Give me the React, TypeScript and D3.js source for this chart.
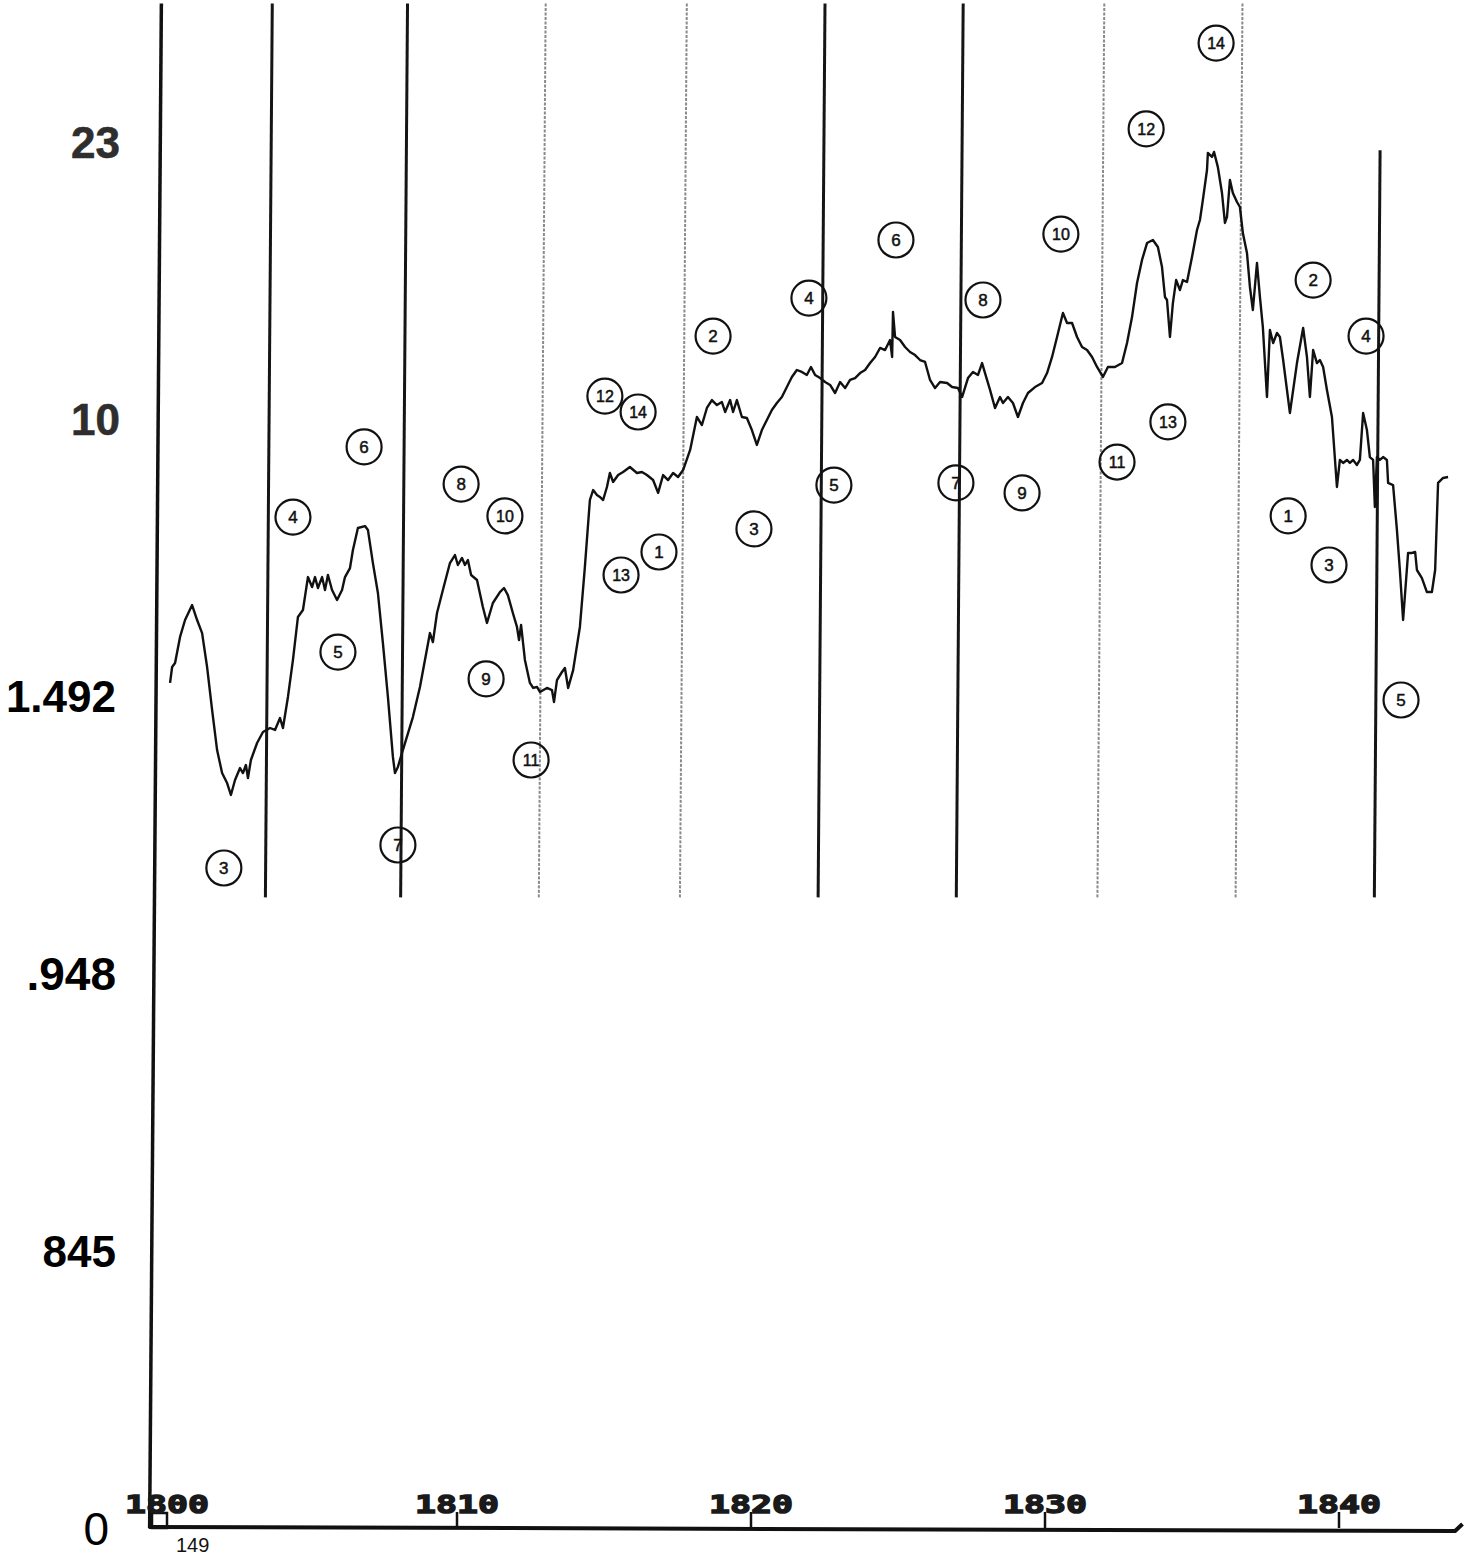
import React from "react";
import * as d3 from "d3";

// ---- data -----------------------------------------------------------------
// series traced as [year, level]; level is on the 0..100 index scale of the y axis
const series1800s: [number, number][] = [
  [1800.24,60.97],[1800.31,62.12],[1800.41,62.41],[1800.58,64.29],[1800.75,65.51],[1800.99,66.59],[1801.16,65.51],[1801.33,64.57],[1801.50,62.12],[1801.67,59.02],[1801.84,56.13],[1802.01,54.47],[1802.18,53.75],[1802.31,52.89],[1802.45,53.97],[1802.62,54.83],[1802.72,54.47],[1802.82,55.05],[1802.89,54.11],[1802.99,55.41],[1803.20,56.64],[1803.40,57.43],[1803.64,57.72],[1803.81,57.58],[1803.98,58.44],[1804.08,57.72],[1804.25,59.96],[1804.42,62.63],[1804.59,65.73],[1804.76,66.23],[1804.93,68.61],[1805.07,67.89],[1805.17,68.61],[1805.27,67.82],[1805.41,68.61],[1805.51,67.68],[1805.61,68.76],[1805.75,67.68],[1805.92,66.96],[1806.09,67.68],[1806.19,68.61],[1806.36,69.26],[1806.46,70.56],[1806.63,72.15],[1806.87,72.29],[1806.97,72.01],[1807.14,69.62],[1807.31,67.46],[1807.48,63.85],[1807.65,59.96],[1807.82,55.63],[1807.89,54.47],[1807.99,54.91],[1808.13,55.92],
];
const series1810s: [number, number][] = [
  [1808.50,58.51],[1808.74,60.68],[1809.08,64.57],[1809.18,63.92],[1809.32,66.02],[1809.52,67.68],[1809.76,69.62],[1809.93,70.20],[1810.03,69.48],[1810.17,69.99],[1810.27,69.48],[1810.37,69.84],[1810.48,68.76],[1810.68,68.40],[1810.88,66.45],[1811.02,65.30],[1811.22,66.74],[1811.46,67.53],[1811.60,67.82],[1811.73,67.31],[1811.90,66.02],[1812.04,65.01],[1812.11,64.07],[1812.18,65.15],[1812.31,62.63],[1812.48,60.97],[1812.59,60.61],[1812.72,60.68],[1812.82,60.32],[1813.06,60.61],[1813.23,60.46],[1813.30,59.60],[1813.40,61.18],[1813.57,61.76],[1813.67,62.05],[1813.78,60.61],[1813.95,61.90],[1814.18,65.01],[1814.35,69.34],[1814.52,74.17],[1814.63,74.89],[1814.76,74.53],[1814.86,74.39],[1814.97,74.17],[1815.10,75.11],[1815.20,76.12],[1815.31,75.47],[1815.48,75.97],[1815.65,76.19],[1815.88,76.55],[1816.12,76.12],[1816.29,76.19],[1816.46,75.97],[1816.67,75.61],[1816.84,74.68],[1817.01,75.97],[1817.18,75.61],[1817.35,76.12],[1817.52,75.83],[1817.69,76.33],[1817.93,77.78],
];
const series1820s: [number, number][] = [
  [1818.16,80.16],[1818.33,79.58],[1818.50,80.81],[1818.67,81.38],[1818.84,81.02],[1819.01,81.24],[1819.12,80.52],[1819.29,81.38],[1819.39,80.52],[1819.52,81.38],[1819.69,80.16],[1819.86,80.09],[1820.03,79.22],[1820.20,78.14],[1820.37,79.22],[1820.54,79.94],[1820.71,80.66],[1820.88,81.17],[1821.05,81.60],[1821.22,82.32],[1821.39,83.05],[1821.56,83.55],[1821.73,83.41],[1821.90,83.19],[1822.04,83.77],[1822.18,83.19],[1822.35,82.97],[1822.52,82.68],[1822.69,82.47],[1822.86,81.89],[1823.03,82.68],[1823.20,82.25],[1823.37,82.83],[1823.54,82.97],[1823.71,83.33],[1823.88,83.55],[1824.05,84.05],[1824.22,84.49],[1824.39,85.14],[1824.56,84.99],[1824.73,85.71],[1824.80,84.49],[1824.83,87.73],[1824.90,85.93],[1825.07,85.71],[1825.24,85.21],[1825.41,84.85],[1825.58,84.63],[1825.75,84.27],[1825.92,84.13],[1826.09,82.83],[1826.26,82.25],[1826.43,82.68],[1826.67,82.61],[1826.84,82.32],[1827.04,82.25],[1827.18,81.60],[1827.38,82.97],[1827.55,83.41],[1827.72,83.19],[1827.86,84.05],[1827.96,83.33],[1828.13,82.11],[1828.30,80.81],
];
const series1830s: [number, number][] = [
  [1828.47,81.60],[1828.57,81.17],[1828.74,81.60],[1828.91,81.17],[1829.08,80.16],[1829.25,81.17],[1829.42,81.89],[1829.66,82.32],[1829.90,82.61],[1830.07,83.33],[1830.24,84.49],[1830.41,85.93],[1830.61,87.66],[1830.75,86.94],[1830.92,86.94],[1831.09,85.93],[1831.26,85.21],[1831.43,84.99],[1831.60,84.49],[1831.77,83.77],[1831.97,83.05],[1832.14,83.77],[1832.38,83.77],[1832.62,84.05],[1832.79,85.50],[1832.96,87.37],[1833.13,89.83],[1833.30,91.49],[1833.47,92.71],[1833.67,92.93],[1833.84,92.42],[1833.98,90.98],[1834.08,88.82],[1834.15,88.60],[1834.25,85.93],[1834.35,88.38],[1834.46,90.04],[1834.59,89.32],[1834.69,90.04],[1834.83,89.90],[1835.00,91.70],[1835.17,93.65],[1835.27,94.37],[1835.37,95.82],[1835.51,97.98],[1835.54,99.21],[1835.68,98.92],[1835.75,99.28],[1835.88,98.19],[1836.02,96.32],[1836.12,94.16],[1836.19,94.59],[1836.29,97.26],[1836.39,96.32],[1836.53,95.67],[1836.63,95.31],[1836.73,93.43],[1836.87,91.99],[1836.97,89.54],[1837.07,87.88],
];
const series1840s: [number, number][] = [
  [1837.21,91.27],[1837.31,88.82],[1837.41,86.65],[1837.55,81.60],[1837.65,86.44],[1837.76,85.50],[1837.89,86.22],[1837.99,85.93],[1838.10,84.27],[1838.33,80.45],[1838.57,84.05],[1838.78,86.58],[1838.91,84.49],[1839.01,81.60],[1839.12,84.99],[1839.25,84.05],[1839.35,84.27],[1839.46,83.77],[1839.59,82.11],[1839.76,80.16],[1839.93,75.11],[1840.03,77.06],[1840.14,76.84],[1840.27,77.06],[1840.37,76.84],[1840.48,77.06],[1840.61,76.70],[1840.71,77.06],[1840.82,80.45],[1840.95,79.22],[1841.05,77.27],[1841.16,77.06],[1841.22,73.67],[1841.29,77.27],[1841.39,77.06],[1841.50,77.27],[1841.63,77.06],[1841.67,75.40],[1841.84,75.25],[1841.97,72.01],[1842.07,69.12],[1842.18,65.51],[1842.35,70.35],[1842.48,70.35],[1842.59,70.42],[1842.65,69.12],[1842.82,68.54],[1842.99,67.53],[1843.16,67.53],[1843.27,69.12],[1843.37,75.40],[1843.54,75.76],[1843.71,75.83],
];

// y axis: evenly spaced positions with their printed labels
const yTickValues = [100, 80, 60, 40, 20, 0];
const yTickLabels = ["23", "10", "1.492", ".948", "845", "0"];

// x axis
const xTickYears = [1800, 1810, 1820, 1830, 1840];
const xTickLabels = ["1800", "1810", "1820", "1830", "1840"];
const xSubLabel = "149";

// period divider lines
const dividerYears = [1803.6, 1808.2, 1812.9, 1817.7, 1822.4, 1827.1, 1831.9, 1836.6, 1841.3];
const dividerHeavy = [true, true, false, false, true, true, false, false, true];
const dividerTop = [110, 110, 110, 110, 110, 110, 110, 110, 99.4];
const dividerBottom = 45.5;

// circled phase numbers
const markYears = [1802.07,1804.42,1805.95,1806.84,1807.99,1810.14,1810.99,1811.63,1812.52,1815.03,1816.16,1815.58,1816.87,1818.71,1820.10,1821.97,1822.82,1824.93,1826.97,1827.89,1829.22,1830.54,1832.45,1833.44,1834.18,1835.82,1838.27,1839.12,1839.66,1840.92,1842.11];
const markLevels = [47.62,72.94,63.20,78.00,49.28,75.32,61.26,73.02,55.41,81.67,80.52,68.76,70.42,86.00,72.08,88.74,75.25,92.93,75.40,88.60,74.68,93.36,76.91,100.94,79.80,107.14,73.02,90.04,69.48,86.00,59.74];
const markLabels = ["3","4","5","6","7","8","9","10","11","12","14","13","1","2","3","4","5","6","7","8","9","10","11","12","13","14","1","2","3","4","5"];

// ---- chart ----------------------------------------------------------------
const W = 1473;
const H = 1560;
const x = d3.scaleLinear().domain([1800, 1845]).range([163, 1486]);
const y = d3.scaleLinear().domain([0, 100]).range([1528, 142]);
const TILT = 0.0077; // slight lean of the printed verticals

const line = d3
  .line<[number, number]>()
  .x((d) => x(d[0]))
  .y((d) => y(d[1]))
  .curve(d3.curveLinear);

const allSeries = [...series1800s, ...series1810s, ...series1820s, ...series1830s, ...series1840s];

function leaning(xc: number, y0: number, y1: number) {
  const mid = (y0 + y1) / 2;
  return {
    x1: xc - (y0 - mid) * TILT,
    y1: y0,
    x2: xc - (y1 - mid) * TILT,
    y2: y1,
  };
}

export default function App() {
  const base = y(0);
  const axisX = x(1800) - 7.5;
  const axis = leaning(axisX, y(110), base);
  const baseline = d3.line()([
    [axis.x2 - 1, base - 1],
    [x(1843.95), base + 3],
    [x(1844.2), base - 4],
  ]);

  return (
    <svg
      width={W}
      height={H}
      viewBox={`0 0 ${W} ${H}`}
      style={{ position: "absolute", left: 0, top: 0, background: "#fff" }}
    >
      <rect width={W} height={H} fill="#fff" />

      {/* divider lines */}
      {dividerYears.map((yr, i) => {
        const l = leaning(x(yr), y(dividerTop[i]), y(dividerBottom));
        return (
          <line
            key={`d${i}`}
            {...l}
            stroke={dividerHeavy[i] ? "#151515" : "#8a8a8a"}
            strokeWidth={dividerHeavy[i] ? 3 : 2}
            strokeDasharray={dividerHeavy[i] ? undefined : "3 1.5"}
          />
        );
      })}

      {/* y axis */}
      <line {...axis} stroke="#111" strokeWidth={3.5} />
      {yTickValues.map((v, i) => {
        const soft = i < 2;
        const plain = v === 0;
        return (
          <text
            key={`yt${i}`}
            x={plain ? 109 : soft ? 120 : 116}
            y={y(v)}
            dy="0.36em"
            textAnchor="end"
            fontFamily="'Liberation Sans', Arial, sans-serif"
            fontSize={plain ? 46 : soft ? 44 : v === 40 ? 46 : 44}
            fontWeight={plain ? 400 : soft ? 600 : 700}
            fill={soft ? "#2e2e2e" : "#000"}
            stroke={soft ? "#2e2e2e" : "none"}
            strokeWidth={soft ? 0.6 : 0}
          >
            {yTickLabels[i]}
          </text>
        );
      })}

      {/* x axis */}
      <path d={baseline ?? ""} fill="none" stroke="#111" strokeWidth={4} />
      {xTickYears.map((yr, i) =>
        i === 0 ? (
          <rect
            key={`xt${i}`}
            x={x(yr) - 11}
            y={base - 15}
            width={15}
            height={15}
            fill="none"
            stroke="#111"
            strokeWidth={2.5}
          />
        ) : (
          <line key={`xt${i}`} x1={x(yr)} x2={x(yr)} y1={base} y2={base - 16} stroke="#111" strokeWidth={2.5} />
        )
      )}
      {xTickYears.map((yr, i) => (
        <text
          key={`xl${i}`}
          x={x(yr) - 42 + (i === 0 ? 4 : 0)}
          y={base - 15}
          textLength={84}
          lengthAdjust="spacingAndGlyphs"
          fontFamily="'DejaVu Sans Mono', monospace"
          fontWeight={700}
          fontSize={25}
          fill="#1a1a1a"
          stroke="#1a1a1a"
          strokeWidth={1.4}
        >
          {xTickLabels[i]}
        </text>
      ))}
      <text
        x={x(1800) + 13}
        y={base + 24}
        fontFamily="'Liberation Sans', Arial, sans-serif"
        fontSize={20}
        fill="#111"
      >
        {xSubLabel}
      </text>

      {/* series */}
      <path
        d={line(allSeries) ?? ""}
        fill="none"
        stroke="#111"
        strokeWidth={2.4}
        strokeLinejoin="round"
      />

      {/* circled numbers */}
      {markYears.map((yr, i) => (
        <g key={`m${i}`} transform={`translate(${x(yr)},${y(markLevels[i])})`}>
          <circle r={17.5} fill="none" stroke="#111" strokeWidth={2.2} />
          <text
            textAnchor="middle"
            dy="0.36em"
            fontFamily="'Liberation Sans', Arial, sans-serif"
            fontWeight={400}
            fontSize={markLabels[i].length > 1 ? 16 : 17}
            fill="#111"
            stroke="#111"
            strokeWidth={0.5}
          >
            {markLabels[i]}
          </text>
        </g>
      ))}
    </svg>
  );
}
